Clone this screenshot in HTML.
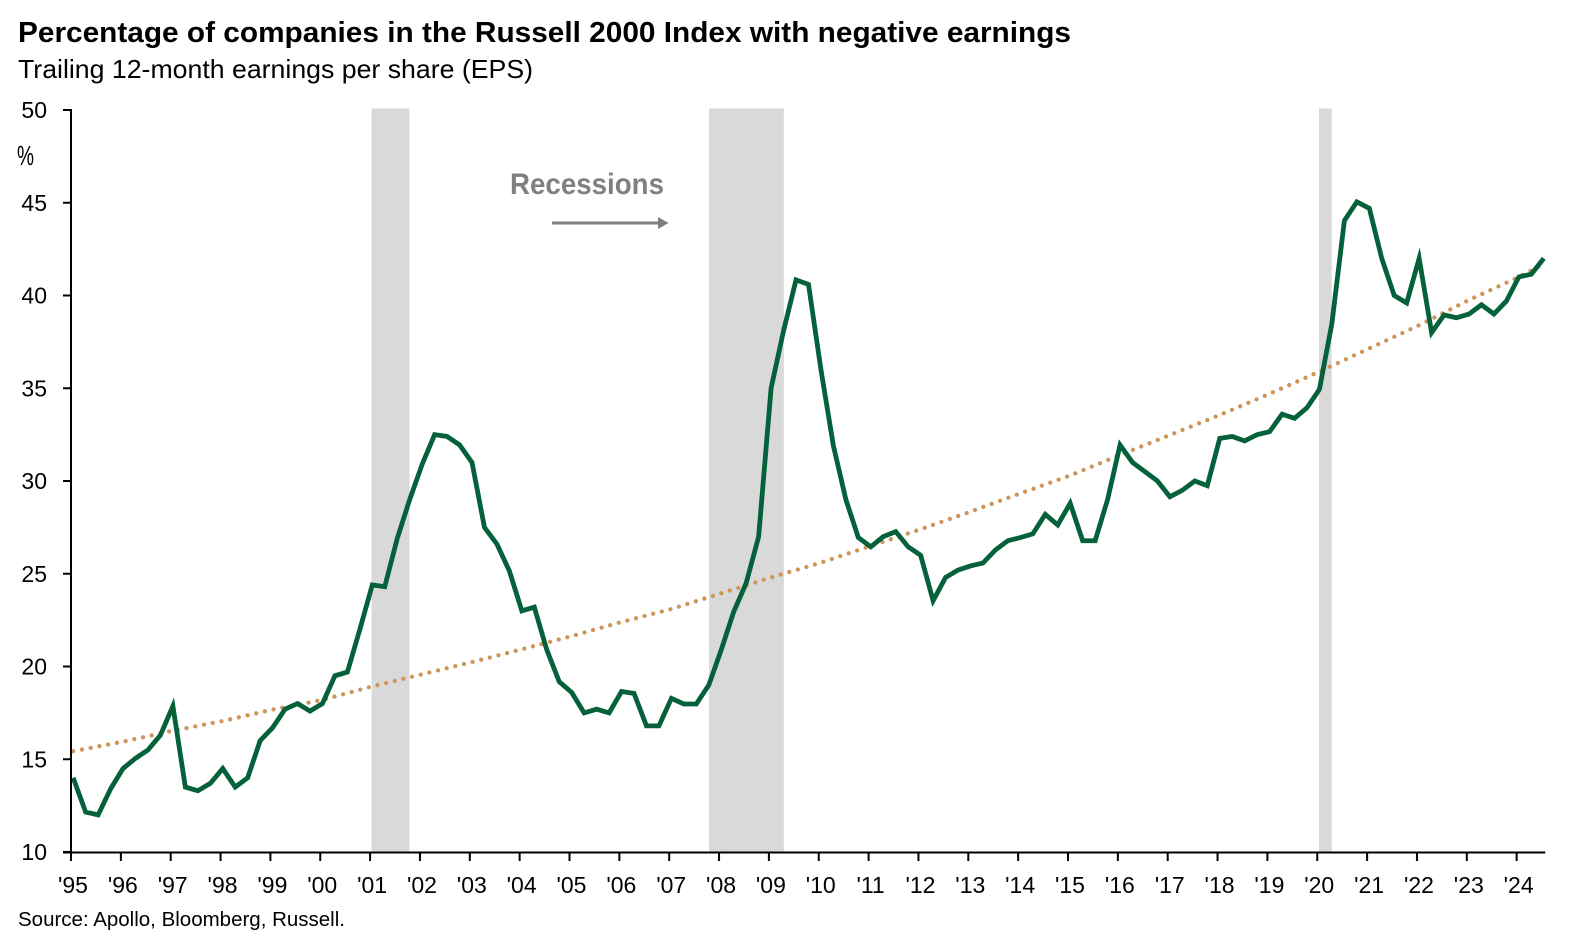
<!DOCTYPE html>
<html lang="en">
<head>
<meta charset="utf-8">
<title>Percentage of companies in the Russell 2000 Index with negative earnings</title>
<style>
html,body{margin:0;padding:0;background:#fff;}
body{width:1570px;height:945px;overflow:hidden;}
svg{display:block;}
text{font-family:"Liberation Sans",sans-serif;fill:#000;}
</style>
</head>
<body>
<svg id="chart" xmlns="http://www.w3.org/2000/svg" width="1570" height="945" viewBox="0 0 1570 945">
  <rect x="0" y="0" width="1570" height="945" fill="#fff"/>
  <text x="18" y="42" font-size="29" font-weight="700" textLength="1053" lengthAdjust="spacingAndGlyphs">Percentage of companies in the Russell 2000 Index with negative earnings</text>
  <text x="18" y="78" font-size="26" textLength="515" lengthAdjust="spacingAndGlyphs">Trailing 12-month earnings per share (EPS)</text>
  <g id="recessions"></g>
  <path id="trend" fill="none" stroke="#cf9558" stroke-width="4.3" stroke-linecap="round" stroke-dasharray="0 8.9"/>
  <path id="series" fill="none" stroke="#04613a" stroke-width="4.8" stroke-linejoin="miter" stroke-miterlimit="6"/>
  <g id="axes"></g>
  <text x="17" y="165" font-size="28" textLength="17" lengthAdjust="spacingAndGlyphs">%</text>
  <text x="510" y="194" font-size="30" font-weight="700" style="fill:#808080" textLength="154" lengthAdjust="spacingAndGlyphs">Recessions</text>
  <g>
    <line x1="552" y1="223" x2="660" y2="223" stroke="#7f7f7f" stroke-width="3"/>
    <polygon points="668.5,223 658,217 658,229" fill="#7f7f7f"/>
  </g>
  <text x="18" y="926" font-size="20" textLength="327" lengthAdjust="spacingAndGlyphs">Source: Apollo, Bloomberg, Russell.</text>
</svg>
<script>
var yearLabels = ["'95","'96","'97","'98","'99","'00","'01","'02","'03","'04","'05","'06","'07","'08","'09","'10","'11","'12","'13","'14","'15","'16","'17","'18","'19","'20","'21","'22","'23","'24"];
var yTicks = [10,15,20,25,30,35,40,45,50];
var negativeEarnings = [
 14.0,12.15,12.0,13.4,14.5,15.05,15.5,16.3,17.87,13.5,13.3,13.7,14.5,13.5,14.0,16.0,
 16.7,17.7,18.0,17.6,18.0,19.5,19.7,22.0,24.4,24.3,26.9,29.0,30.9,32.5,32.4,31.95,
 31.0,27.5,26.6,25.15,23.0,23.2,20.9,19.18,18.6,17.5,17.7,17.5,18.65,18.55,16.8,16.8,
 18.28,17.98,17.98,19.0,20.9,22.95,24.5,27.0,35.0,38.1,40.84,40.6,36.0,31.9,29.0,26.95,
 26.45,27.0,27.27,26.45,26.0,23.55,24.8,25.2,25.42,25.58,26.28,26.78,26.95,27.15,28.2,27.63,
 28.8,26.78,26.78,29.0,31.94,31.0,30.5,30.0,29.15,29.5,30.0,29.75,32.3,32.4,32.16,32.5,
 32.66,33.6,33.38,33.95,34.94,38.5,44.03,45.05,44.7,42.0,40.0,39.6,42.0,38.0,38.95,38.8,
 39.0,39.5,39.0,39.7,41.0,41.15,42.0
];
var trendValues = [15.43,15.95,16.54,17.06,17.68,18.2,18.93,19.58,20.24,20.93,21.64,22.4,23.1,23.95,24.8,25.6,26.5,27.4,28.35,29.33,30.3,31.4,32.48,33.56,34.7,35.9,37.15,38.4,39.76,41.0,41.7];
var recessionStarts = [2001.03,2007.80,2020.035];
var recessionEnds = [2001.79,2009.30,2020.29];

var NS = 'http://www.w3.org/2000/svg';
var plotLeft = 71, plotBottom = 852, plotTop = 110, yearWidth = 49.85, firstYear = 1995;
var pointOffset = 2.2;
function xYear(t){ return plotLeft + (t - firstYear) * yearWidth; }
function xQuarter(i){ return xYear(firstYear + i / 4) + pointOffset; }
function yVal(v){ return plotBottom - (v - 10) * (plotBottom - plotTop) / 40; }
function make(tag, attrs, parent){
  var el = document.createElementNS(NS, tag);
  for (var k in attrs) el.setAttribute(k, attrs[k]);
  parent.appendChild(el);
  return el;
}

var recG = document.getElementById('recessions');
recessionStarts.forEach(function(s, i){
  var x0 = xYear(s), x1 = xYear(recessionEnds[i]);
  var r = make('rect', {x:x0, y:plotTop-1.5, width:x1-x0, height:plotBottom-plotTop+1.5, fill:'#d9d9d9'}, recG);
  
  
});

var seriesD = negativeEarnings.map(function(v, i){
  return (i ? 'L' : 'M') + xQuarter(i).toFixed(2) + ' ' + yVal(v).toFixed(2);
}).join(' ');
document.getElementById('series').setAttribute('d', seriesD);

var trendD = trendValues.map(function(v, i){
  var idx = Math.min(i * 4, negativeEarnings.length - 1);
  return (i ? 'L' : 'M') + xQuarter(idx).toFixed(2) + ' ' + yVal(v).toFixed(2);
}).join(' ');
document.getElementById('trend').setAttribute('d', trendD);

var axes = document.getElementById('axes');
var yAxis = make('line', {x1:plotLeft, y1:plotTop-1, x2:plotLeft, y2:plotBottom+1, stroke:'#000', 'stroke-width':2}, axes);


var xAxis = make('line', {x1:plotLeft-8, y1:plotBottom+0.5, x2:xQuarter(negativeEarnings.length - 1)+1.5, y2:plotBottom+0.5, stroke:'#000', 'stroke-width':2}, axes);



yTicks.forEach(function(v){
  var y = yVal(v);
  var t = make('line', {x1:plotLeft-8, y1:y, x2:plotLeft, y2:y, stroke:'#000', 'stroke-width':2}, axes);
  
  
  var l = make('text', {x:47, y:y+8, 'font-size':23, 'text-anchor':'end'}, axes);
  
  
  l.textContent = v;
});

yearLabels.forEach(function(lab, i){
  var x = xYear(firstYear + i);
  var t = make('line', {x1:x, y1:plotBottom, x2:x, y2:plotBottom+9, stroke:'#000', 'stroke-width':2}, axes);
  
  
  var l = make('text', {x:x+2, y:893, 'font-size':23, 'text-anchor':'middle'}, axes);
  
  
  l.textContent = lab;
});
</script>
</body>
</html>
